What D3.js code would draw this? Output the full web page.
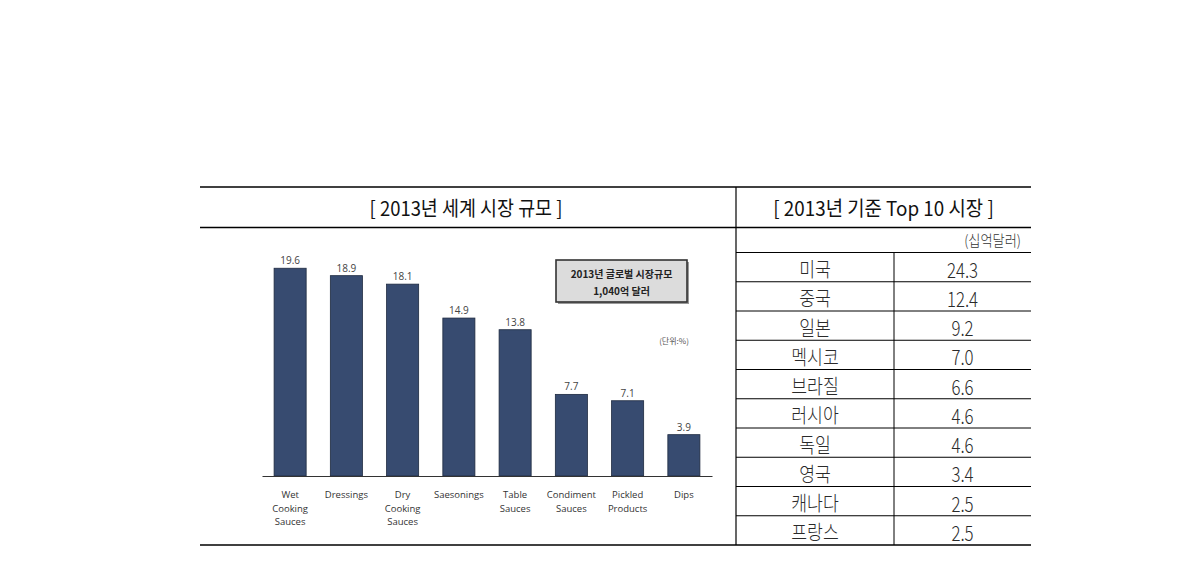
<!DOCTYPE html>
<html>
<head>
<meta charset="utf-8">
<script src="https://cdn.jsdelivr.net/npm/d3@7"></script>
<style>
  html, body { margin: 0; padding: 0; background: #ffffff; }
  svg { display: block; }
</style>
</head>
<body>
<svg id="chart" width="1190" height="584"></svg>
<script>
// ---- data ----
const leftTitle = "[ 2013년 세계 시장 규모 ]";
const rightTitle = "[ 2013년 기준 Top 10 시장 ]";
const unitTable = "(십억달러)";
const unitChart = "(단위:%)";
const noteLines = ["2013년 글로벌 시장규모", "1,040억 달러"];
const categories = [
  ["Wet", "Cooking", "Sauces"],
  ["Dressings"],
  ["Dry", "Cooking", "Sauces"],
  ["Saesonings"],
  ["Table", "Sauces"],
  ["Condiment", "Sauces"],
  ["Pickled", "Products"],
  ["Dips"]
];
const shares = [19.6, 18.9, 18.1, 14.9, 13.8, 7.7, 7.1, 3.9];
const countries = ["미국", "중국", "일본", "멕시코", "브라질", "러시아", "독일", "영국", "캐나다", "프랑스"];
const marketValues = [24.3, 12.4, 9.2, 7.0, 6.6, 4.6, 4.6, 3.4, 2.5, 2.5];

// ---- layout ----
const svg = d3.select("#chart");
const KR = "'Noto Sans CJK KR', 'Noto Sans', sans-serif";
const LAT = "'Open Sans', 'Noto Sans', sans-serif";
const frame = { left: 200, right: 1031, top: 187, head: 227.5, bottom: 545, divider: 736 };

// frame lines
const hl = (x1, x2, y, w) => svg.append("line").attr("x1", x1).attr("x2", x2).attr("y1", y).attr("y2", y)
  .attr("stroke", "#000").attr("stroke-width", w);
const vl = (x, y1, y2, w) => svg.append("line").attr("x1", x).attr("x2", x).attr("y1", y1).attr("y2", y2)
  .attr("stroke", "#000").attr("stroke-width", w);
hl(frame.left, frame.right, frame.top, 1.6);
hl(frame.left, frame.right, frame.head, 1.4);
hl(frame.left, frame.right, frame.bottom, 1.6);
vl(frame.divider, frame.top, frame.bottom, 1.2);

// condensed text helper
function ctext(x, y, str, size, sx, anchor, color, weight) {
  const g = svg.append("g").attr("transform", `translate(${x},${y}) scale(${sx},1)`);
  g.append("text").attr("x", 0).attr("y", 0)
    .attr("text-anchor", anchor).attr("dominant-baseline", "central")
    .attr("font-family", KR).attr("font-size", size).attr("fill", color)
    .attr("font-weight", weight || 400)
    .text(str);
  return g;
}

// titles
ctext((frame.left + frame.divider) / 2 - 2, 207.5, leftTitle, 20.5, 0.9, "middle", "#111", 400);
ctext((frame.divider + frame.right) / 2, 207.5, rightTitle, 20.5, 0.92, "middle", "#111", 400);

// ---- table ----
const tableTop = 252.5;
const rowY = d3.scaleBand().domain(countries).range([tableTop, frame.bottom]);
const colSplit = 894;
ctext(1021, 240, unitTable, 15, 0.88, "end", "#333", 300);
hl(frame.divider, frame.right, tableTop, 1);
countries.forEach((c, i) => {
  if (i > 0) hl(frame.divider, frame.right, rowY(c), 1);
});
vl(colSplit, tableTop, frame.bottom, 1);
const fmt = d3.format(".1f");
countries.forEach((c, i) => {
  const cy = rowY(c) + rowY.bandwidth() / 2 + 1;
  ctext((frame.divider + colSplit) / 2, cy, c, 20, 0.86, "middle", "#2a2a2a", 300);
  ctext((colSplit + frame.right) / 2, cy, fmt(marketValues[i]), 21, 0.8, "middle", "#2a2a2a", 300);
});

// ---- bar chart ----
const baseY = 476;
const x = d3.scaleBand().domain(d3.range(categories.length)).range([262, 712]).paddingInner(0.43).paddingOuter(0.215);
const y = d3.scaleLinear().domain([0, 20]).range([baseY, baseY - 212]);

svg.append("g").selectAll("rect").data(shares).join("rect")
  .attr("x", (d, i) => x(i)).attr("width", x.bandwidth())
  .attr("y", d => y(d)).attr("height", d => baseY - y(d))
  .attr("fill", "#374b70").attr("stroke", "#1e2a40").attr("stroke-width", 0.8);

const axis = svg.append("g").attr("transform", `translate(0,${baseY})`)
  .call(d3.axisBottom(x).tickSize(0).tickFormat(""));
axis.select(".domain").attr("stroke", "#333").attr("stroke-width", 1.2);

svg.append("g").selectAll("text").data(shares).join("text")
  .attr("x", (d, i) => x(i) + x.bandwidth() / 2).attr("y", d => y(d) - 4)
  .attr("text-anchor", "middle").attr("font-family", LAT).attr("font-size", 10)
  .attr("fill", "#444").text(d => fmt(d));

categories.forEach((lines, i) => {
  const t = svg.append("text").attr("x", x(i) + x.bandwidth() / 2).attr("y", 498)
    .attr("text-anchor", "middle").attr("font-family", LAT).attr("font-size", 9.5).attr("fill", "#333");
  lines.forEach((ln, k) => t.append("tspan").attr("x", x(i) + x.bandwidth() / 2).attr("dy", k === 0 ? 0 : 13.5).text(ln));
});

// note box
const box = { x: 556, y: 260, w: 131, h: 42 };
svg.append("rect").attr("x", box.x + 2).attr("y", box.y + 2).attr("width", box.w).attr("height", box.h).attr("fill", "#999");
svg.append("rect").attr("x", box.x).attr("y", box.y).attr("width", box.w).attr("height", box.h)
  .attr("fill", "#dcdcdc").attr("stroke", "#333").attr("stroke-width", 1.6);
noteLines.forEach((ln, k) => {
  svg.append("text").attr("x", box.x + box.w / 2).attr("y", box.y + 13 + k * 17)
    .attr("text-anchor", "middle").attr("dominant-baseline", "central")
    .attr("font-family", KR).attr("font-size", 10).attr("font-weight", 700).attr("fill", "#222").text(ln);
});
svg.append("text").attr("x", 674).attr("y", 340).attr("text-anchor", "middle").attr("dominant-baseline", "central")
  .attr("font-family", KR).attr("font-size", 8).attr("fill", "#555").text(unitChart);
</script>
</body>
</html>
